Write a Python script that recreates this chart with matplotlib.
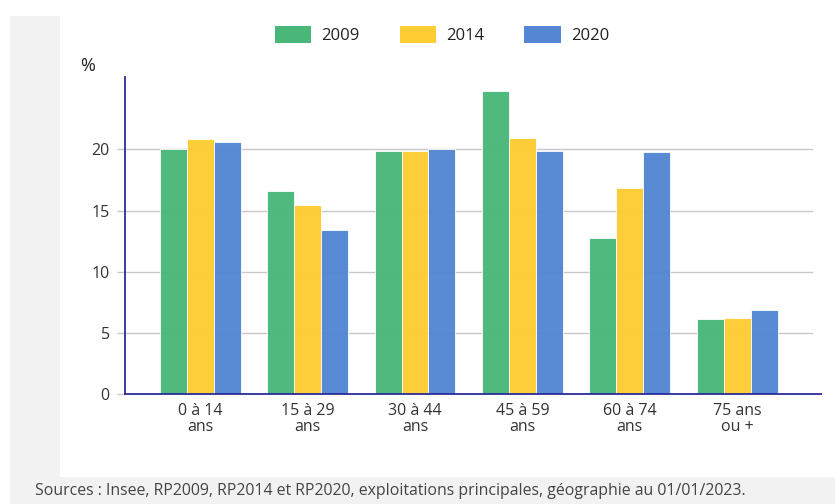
import matplotlib.pyplot as plt
from matplotlib.patches import Rectangle, Patch
import numpy as np

plt.rcParams['font.family'] = ['Open Sans', 'DejaVu Sans']

categories = ['0 à 14\nans', '15 à 29\nans', '30 à 44\nans', '45 à 59\nans', '60 à 74\nans', '75 ans\nou +']
years = ['2009', '2014', '2020']
v2009 = [20.0, 16.6, 19.9, 24.75, 12.75, 6.15]
v2014 = [20.8, 15.45, 19.9, 20.9, 16.85, 6.25]
v2020 = [20.6, 13.4, 20.0, 19.9, 19.75, 6.85]
colors = ['#4ab77a', '#fecd33', '#5486d3']
source = 'Sources : Insee, RP2009, RP2014 et RP2020, exploitations principales, géographie au 01/01/2023.'

W, H = 835, 504
fig = plt.figure(figsize=(W / 100, H / 100), dpi=100)
fig.patch.set_facecolor('white')

# background panels (pixel coords -> figure fraction)
fig.patches.append(Rectangle((10 / W, 0), 1 - 10 / W, 1 - 16 / H, transform=fig.transFigure,
                             facecolor='#f2f2f2', edgecolor='none', zorder=-10))
fig.patches.append(Rectangle((60 / W, 1 - 477 / H), 1 - 60 / W, (477 - 16) / H, transform=fig.transFigure,
                             facecolor='white', edgecolor='none', zorder=-9))

ax = fig.add_axes([125 / W, 1 - 394.3 / H, 696 / W, (394.3 - 77) / H])
ax.set_facecolor('none')

x = np.arange(len(categories))
w = 0.251
for i, (vals, c) in enumerate(zip([v2009, v2014, v2020], colors)):
    ax.bar(x + (i - 1) * w, vals, width=w, color=c, edgecolor='white', linewidth=0.6,
           alpha=0.97, zorder=3)

for yv in [5, 10, 15, 20]:
    ax.axhline(yv, xmin=0, xmax=0.987, color='#c8c8c8', linewidth=1.0, zorder=1)

ax.set_xlim(-0.70, 5.78)
ax.set_ylim(0, 25.9)
ax.set_yticks([0, 5, 10, 15, 20])
ax.set_xticks(x)
ax.set_xticklabels(categories, fontsize=11.5, color='#333333', linespacing=1.05)
ax.tick_params(axis='x', length=0, pad=6)
ax.tick_params(axis='y', length=6, color='#c8c8c8', width=1, labelsize=11.5,
               labelcolor='#333333', pad=5)

for s in ['top', 'right']:
    ax.spines[s].set_visible(False)
for s in ['left', 'bottom']:
    ax.spines[s].set_color('#2b2b9b')
    ax.spines[s].set_linewidth(1.3)
    ax.spines[s].set_zorder(4)

fig.text(80 / W, 1 - 66 / H, '%', fontsize=13, color='#222222', ha='left', va='center')

handles = [Patch(facecolor=c, edgecolor='none') for c in colors]
fig.legend(handles, years, loc='center', bbox_to_anchor=(442 / W, 1 - 35 / H), ncol=3,
           frameon=False, fontsize=12, handlelength=2.2, handleheight=1.15,
           handletextpad=0.6, columnspacing=2.4, labelcolor='#222222')

fig.text(35 / W, 1 - 491 / H, source, fontsize=11.4, color='#444444', ha='left', va='center')

fig.savefig('out.png', dpi=100)
